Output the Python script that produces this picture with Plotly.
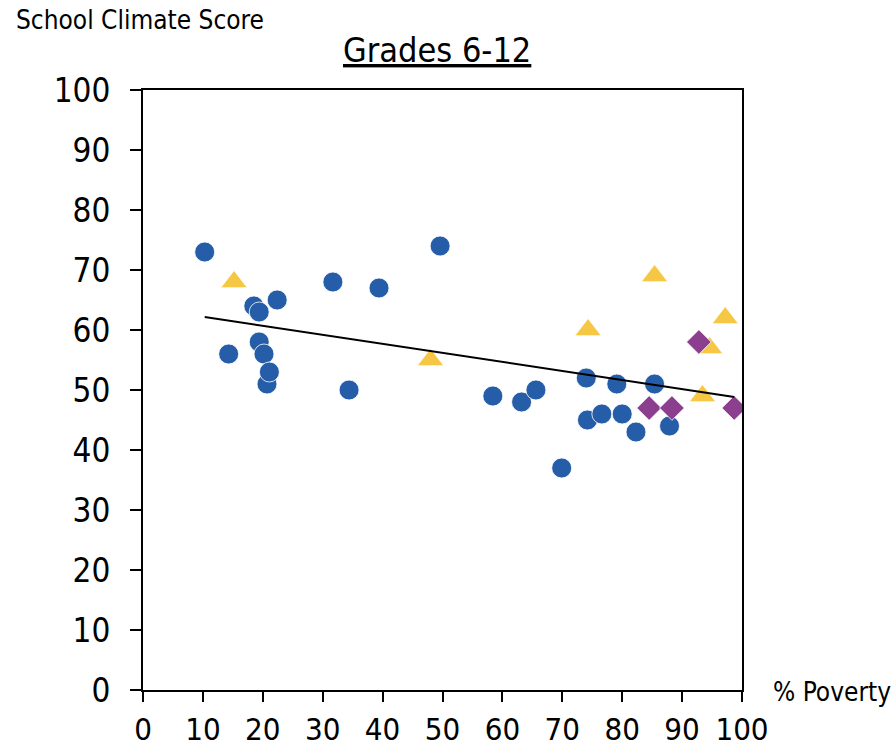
import numpy as np
import plotly.graph_objects as go

# % poverty (x) and school climate score (y), grades 6-12, by school group
circle_x = [10.3, 14.3, 18.5, 19.4, 19.4, 20.2, 20.7, 21.1, 22.4, 31.7, 34.4, 39.4, 49.6,
            58.4, 63.2, 65.6, 69.9, 74.0, 74.2, 76.6, 79.1, 80.0, 82.3, 85.4, 87.9]
circle_y = [73, 56, 64, 63, 58, 56, 51, 53, 65, 68, 50, 67, 74,
            49, 48, 50, 37, 52, 45, 46, 51, 46, 43, 51, 44]

triangle_x = [15.2, 48.0, 74.3, 85.4, 93.4, 94.6, 97.2]
triangle_y = [68, 55, 60, 69, 49, 57, 62]

diamond_x = [84.5, 88.3, 92.8, 98.7]
diamond_y = [47, 47, 58, 47]

x_ticks = list(range(0, 101, 10))
y_ticks = list(range(0, 101, 10))

BLUE = "#265DA9"
YELLOW = "#F6C744"
PURPLE = "#8C3F8E"
FONT = "DejaVu Sans Condensed, Liberation Sans Narrow, Liberation Sans, sans-serif"

# linear trend over all schools
all_x = np.array(circle_x + triangle_x + diamond_x)
all_y = np.array(circle_y + triangle_y + diamond_y)
slope, intercept = np.polyfit(all_x, all_y, 1)
trend_x = np.array([all_x.min(), all_x.max()])
trend_y = slope * trend_x + intercept

fig = go.Figure()
fig.add_trace(go.Scatter(x=circle_x, y=circle_y, mode="markers",
                         marker=dict(symbol="circle", size=20, color=BLUE,
                                     line=dict(width=0.8, color="white"))))
fig.add_trace(go.Scatter(x=triangle_x, y=triangle_y, mode="markers",
                         marker=dict(symbol="triangle-up", size=23, color=YELLOW,
                                     line=dict(width=0.8, color="white"))))
fig.add_trace(go.Scatter(x=diamond_x, y=diamond_y, mode="markers",
                         marker=dict(symbol="diamond", size=19, color=PURPLE,
                                     line=dict(width=0.8, color="white"))))
fig.add_trace(go.Scatter(x=trend_x, y=trend_y, mode="lines",
                         line=dict(color="black", width=2)))

axis_common = dict(showgrid=False, zeroline=False, showline=True, linecolor="black",
                   linewidth=2, mirror=True, ticks="outside", automargin=False,
                   tickwidth=1.5, tickcolor="black")

fig.update_xaxes(range=[0, 100], tickvals=x_ticks, ticklen=10,
                 ticklabelstandoff=1,
                 tickfont=dict(family=FONT, size=31, color="black"), **axis_common)
fig.update_yaxes(range=[0, 100], tickvals=y_ticks, ticklen=11,
                 ticklabelstandoff=13,
                 tickfont=dict(family=FONT, size=33, color="black"), **axis_common)

fig.update_layout(
    width=895, height=751,
    margin=dict(l=143, r=153, t=90, b=61),
    plot_bgcolor="white", paper_bgcolor="white",
    showlegend=False,
    font=dict(family=FONT, color="black"),
    annotations=[
        dict(text="<u>Grades 6-12</u>", showarrow=False, font=dict(size=34)),
        dict(text="School Climate Score", showarrow=False, font=dict(size=26)),
        dict(text="% Poverty", showarrow=False, font=dict(size=26)),
    ],
)

# place header texts in pixel terms relative to the plot area
pw, ph = 895 - 143 - 153, 751 - 90 - 61
def px_to_paper(px, py):
    return (px - 143) / pw, (690 - py) / ph

ann = list(fig.layout.annotations)
tx, ty = px_to_paper(437, 50)
ann[0].update(x=tx, y=ty, xref="paper", yref="paper", xanchor="center", yanchor="middle")
sx, sy = px_to_paper(14, 20)
ann[1].update(x=sx, y=sy, xref="paper", yref="paper", xanchor="left", yanchor="middle")
qx, qy = px_to_paper(771, 692)
ann[2].update(x=qx, y=qy, xref="paper", yref="paper", xanchor="left", yanchor="middle")
fig.update_layout(annotations=ann)

fig.write_html("out.html")
